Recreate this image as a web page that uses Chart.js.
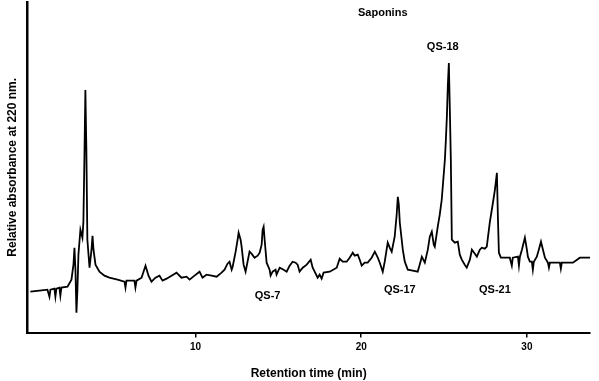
<!DOCTYPE html>
<html>
<head>
<meta charset="utf-8">
<script src="https://cdn.jsdelivr.net/npm/chart.js@4/dist/chart.umd.min.js"></script>
<style>
  html, body { margin: 0; padding: 0; background: #fff; }
  #wrap { width: 599px; height: 381px; position: relative; }
</style>
</head>
<body>
<div id="wrap"><canvas id="c" width="599" height="381"></canvas></div>
<script>
// Retention time (min)
const retentionTime = [
  0.03, 0.57, 1.06, 1.18, 1.24, 1.48, 1.54, 1.60, 1.78, 1.84, 1.90, 2.27, 2.51, 2.63, 2.69, 2.75, 2.81, 2.87, 2.93, 3.05,
  3.17, 3.23, 3.29, 3.35, 3.41, 3.47, 3.60, 3.72, 3.78, 3.84, 3.96, 4.20, 4.50, 4.80, 5.29, 5.71, 5.77, 5.83, 6.31, 6.37,
  6.44, 6.74, 6.98, 7.16, 7.34, 7.58, 7.82, 8.01, 8.25, 8.55, 8.85, 9.15, 9.46, 9.64, 9.94, 10.24, 10.42, 10.66, 10.97, 11.27,
  11.57, 11.75, 11.93, 12.05, 12.18, 12.24, 12.42, 12.54, 12.60, 12.72, 12.78, 12.90, 13.02, 13.14, 13.26, 13.38, 13.56, 13.75, 13.87, 13.99,
  14.05, 14.11, 14.17, 14.29, 14.47, 14.53, 14.65, 14.83, 14.89, 15.08, 15.32, 15.50, 15.68, 15.86, 16.04, 16.16, 16.28, 16.47, 16.71, 16.95,
  17.07, 17.19, 17.37, 17.49, 17.61, 17.73, 18.10, 18.52, 18.70, 18.88, 19.12, 19.30, 19.49, 19.61, 19.79, 19.91, 20.03, 20.21, 20.39, 20.63,
  20.82, 21.00, 21.12, 21.30, 21.42, 21.60, 21.72, 21.84, 22.02, 22.14, 22.21, 22.27, 22.33, 22.51, 22.63, 22.81, 23.11, 23.41, 23.53, 23.66,
  23.84, 24.02, 24.14, 24.26, 24.38, 24.44, 24.62, 24.74, 24.86, 25.05, 25.11, 25.17, 25.23, 25.29, 25.35, 25.41, 25.47, 25.65, 25.83, 25.95,
  26.07, 26.25, 26.37, 26.56, 26.68, 26.86, 26.98, 27.16, 27.28, 27.46, 27.58, 27.76, 27.95, 28.07, 28.19, 28.25, 28.31, 28.43, 28.73, 28.97,
  29.09, 29.15, 29.46, 29.52, 29.58, 29.70, 29.88, 30.00, 30.06, 30.18, 30.30, 30.36, 30.42, 30.60, 30.72, 30.85, 30.97, 31.09, 31.27, 31.33,
  31.39, 31.99, 32.05, 32.11, 32.78, 33.20, 33.81
];
// Relative absorbance at 220 nm (arbitrary units)
const absorbance = [
  41, 42, 43, 36, 43, 44, 36, 44, 45, 37, 45, 46, 53, 68, 85, 63, 20, 43, 78, 103,
  95, 111, 173, 243, 183, 93, 65, 83, 97, 83, 68, 61, 57, 55, 53, 51, 45, 52, 52, 45,
  52, 55, 67, 57, 51, 55, 57, 52, 54, 57, 60, 55, 56, 53, 57, 61, 55, 58, 57, 56,
  60, 63, 69, 71, 63, 66, 81, 93, 100, 93, 86, 68, 61, 71, 81, 79, 75, 77, 80, 88,
  103, 106, 93, 70, 63, 57, 61, 63, 58, 65, 63, 61, 67, 71, 70, 68, 61, 65, 68, 73,
  65, 61, 55, 58, 54, 60, 61, 65, 74, 71, 71, 75, 80, 77, 78, 73, 67, 70, 70, 75,
  81, 75, 70, 61, 71, 90, 85, 81, 96, 118, 136, 128, 110, 83, 71, 63, 62, 61, 68, 76,
  70, 83, 96, 101, 88, 86, 106, 118, 133, 173, 193, 216, 248, 270, 223, 173, 93, 90, 91, 78,
  73, 68, 65, 73, 83, 79, 76, 83, 85, 84, 86, 110, 130, 143, 160, 116, 80, 75, 75, 75,
  67, 75, 76, 67, 76, 83, 95, 83, 76, 71, 71, 63, 71, 76, 83, 91, 83, 75, 70, 65,
  70, 70, 64, 70, 70, 75, 75
];
const xTickValues = [10, 20, 30];
const peakLabels = ["QS-18", "QS-7", "QS-17", "QS-21"];
const peakLabelTimes = [24.92, 14.35, 22.33, 28.07];
const peakLabelLevels = [286, 37, 43, 43];
const chartTitle = "Saponins";
const chartTitleTime = 21.3;
const chartTitleLevel = 320;

const points = retentionTime.map((t, i) => ({ x: t, y: absorbance[i] }));

const textPlugin = {
  id: 'textPlugin',
  afterDraw(chart) {
    const ctx = chart.ctx;
    const xs = chart.scales.x, ys = chart.scales.y;
    ctx.save();
    ctx.fillStyle = '#000';
    ctx.textAlign = 'center';
    ctx.textBaseline = 'middle';
    ctx.font = 'bold 11px "Liberation Sans", Arial, sans-serif';
    ctx.fillText(chartTitle, xs.getPixelForValue(chartTitleTime), ys.getPixelForValue(chartTitleLevel));
    peakLabels.forEach((lab, i) => {
      ctx.fillText(lab, xs.getPixelForValue(peakLabelTimes[i]), ys.getPixelForValue(peakLabelLevels[i]));
    });
    ctx.restore();
  }
};

new Chart(document.getElementById('c'), {
  type: 'line',
  data: {
    datasets: [{
      data: points,
      borderColor: '#000',
      borderWidth: 1.8,
      pointRadius: 0,
      tension: 0,
      fill: false
    }]
  },
  options: {
    responsive: false,
    animation: false,
    events: [],
    layout: { padding: { left: 4, right: 9, top: 2, bottom: 0 } },
    plugins: { legend: { display: false }, tooltip: { enabled: false }, title: { display: false } },
    scales: {
      x: {
        type: 'linear',
        min: -0.15,
        max: 33.81,
        afterBuildTicks(axis) { axis.ticks = xTickValues.map(v => ({ value: v })); },
        border: { color: '#000', width: 2 },
        grid: { display: true, drawOnChartArea: false, drawTicks: true, tickLength: 5, color: '#000', lineWidth: 1.5 },
        ticks: { color: '#000', font: { family: '"Liberation Sans", Arial, sans-serif', weight: 'bold', size: 10 }, padding: 4, maxRotation: 0 },
        title: { display: true, text: 'Retention time (min)', color: '#000', font: { family: '"Liberation Sans", Arial, sans-serif', weight: 'bold', size: 12 }, padding: { top: 9, bottom: 0 } }
      },
      y: {
        min: 0,
        max: 331,
        border: { color: '#000', width: 2.5 },
        grid: { display: false, drawTicks: false },
        ticks: { display: false },
        title: { display: true, text: 'Relative absorbance at 220 nm.', color: '#000', font: { family: '"Liberation Sans", Arial, sans-serif', weight: 'bold', size: 12 }, padding: { top: 1, bottom: 8 } }
      }
    }
  },
  plugins: [textPlugin]
});
</script>
</body>
</html>
